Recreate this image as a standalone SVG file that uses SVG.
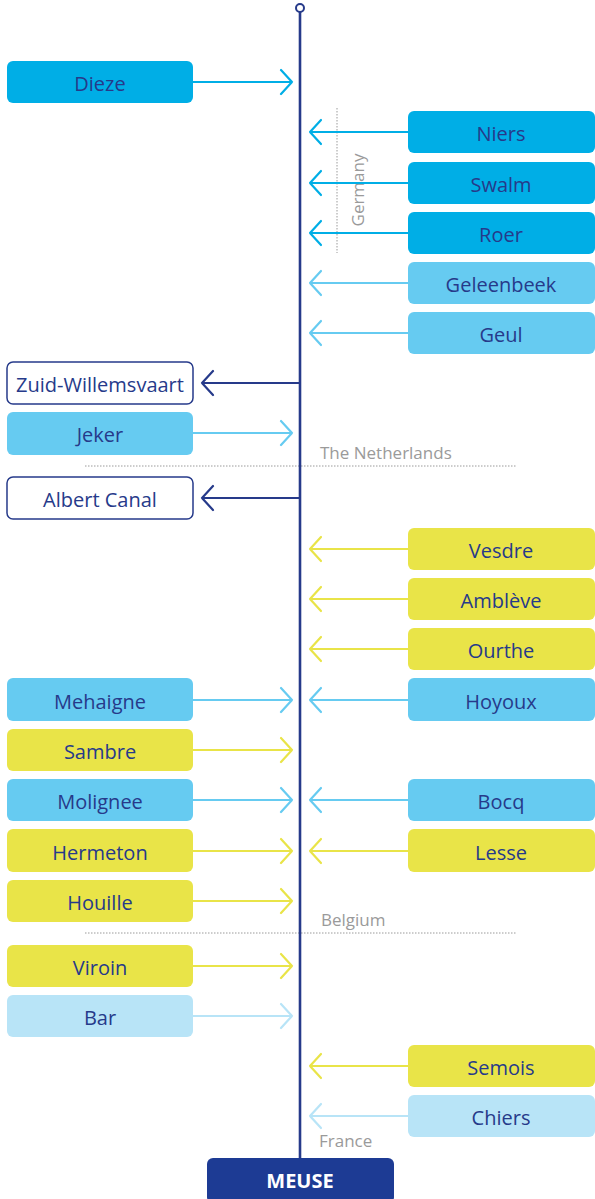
<svg xmlns="http://www.w3.org/2000/svg" width="595" height="1199" viewBox="0 0 595 1199">
<style>
.lbl{font-family:"Open Sans","Liberation Sans",sans-serif;font-size:20px;fill:#263a8a;text-anchor:middle;dominant-baseline:central}
.cty{font-family:"Open Sans","Liberation Sans",sans-serif;font-size:17px;fill:#9a9a9a}
.c1{fill:#00aee6}
.c2{fill:#66cbf1}
.c3{fill:#b8e4f7}
.cy{fill:#e9e448}
.cw{fill:#ffffff;stroke:#263a8a;stroke-width:1.5}
.a1{stroke:#00aee6}
.a2{stroke:#66cbf1}
.a3{stroke:#b8e4f7}
.ay{stroke:#e9e448}
.ad{stroke:#263a8a}
.arr path{fill:none;stroke-width:2.2;stroke-linecap:round;stroke-linejoin:round}
.dot{stroke:#9a9a9a;stroke-width:1;stroke-dasharray:1.5 1.5;fill:none}
</style>

<g id="borders">
<line class="dot" x1="337" y1="108" x2="337" y2="253"/>
<line class="dot" x1="85" y1="466" x2="516" y2="466"/>
<line class="dot" x1="85" y1="933" x2="516" y2="933"/>
<text class="cty" transform="translate(364,190) rotate(-90)" text-anchor="middle">Germany</text>
<text class="cty" x="320" y="459">The Netherlands</text>
<text class="cty" x="321" y="926">Belgium</text>
<text class="cty" x="319" y="1147">France</text>
</g>

<g id="connectors" class="arr">
<path class="ad" d="M300 12 V1158" style="stroke-width:2.6"/>
<!-- left inflows -->
<path class="a1" d="M193 82 H292 M281 70 L292 82 L281 94"/>
<path class="a2" d="M193 433 H292 M281 421 L292 433 L281 445"/>
<path class="a2" d="M193 700 H292 M281 688 L292 700 L281 712"/>
<path class="ay" d="M193 750 H292 M281 738 L292 750 L281 762"/>
<path class="a2" d="M193 800 H292 M281 788 L292 800 L281 812"/>
<path class="ay" d="M193 851 H292 M281 839 L292 851 L281 863"/>
<path class="ay" d="M193 901 H292 M281 889 L292 901 L281 913"/>
<path class="ay" d="M193 966 H292 M281 954 L292 966 L281 978"/>
<path class="a3" d="M193 1016 H292 M281 1004 L292 1016 L281 1028"/>
<!-- right inflows -->
<path class="a1" d="M408 132 H310 M321 120 L310 132 L321 144"/>
<path class="a1" d="M408 183 H310 M321 171 L310 183 L321 195"/>
<path class="a1" d="M408 233 H310 M321 221 L310 233 L321 245"/>
<path class="a2" d="M408 283 H310 M321 271 L310 283 L321 295"/>
<path class="a2" d="M408 333 H310 M321 321 L310 333 L321 345"/>
<path class="ay" d="M408 549 H310 M321 537 L310 549 L321 561"/>
<path class="ay" d="M408 599 H310 M321 587 L310 599 L321 611"/>
<path class="ay" d="M408 649 H310 M321 637 L310 649 L321 661"/>
<path class="a2" d="M408 700 H310 M321 688 L310 700 L321 712"/>
<path class="a2" d="M408 800 H310 M321 788 L310 800 L321 812"/>
<path class="ay" d="M408 851 H310 M321 839 L310 851 L321 863"/>
<path class="ay" d="M408 1066 H310 M321 1054 L310 1066 L321 1078"/>
<path class="a3" d="M408 1116 H310 M321 1104 L310 1116 L321 1128"/>
<!-- outflows -->
<path class="ad" d="M300 383 H202 M213 371 L202 383 L213 395"/>
<path class="ad" d="M300 498 H202 M213 486 L202 498 L213 510"/>
</g>
<circle cx="300" cy="8" r="4" fill="#fff" stroke="#263a8a" stroke-width="2"/>

<g id="n-dieze"><rect class="c1" x="7" y="61" width="186" height="42" rx="6"/><text class="lbl" x="100" y="83">Dieze</text></g>
<g id="n-niers"><rect class="c1" x="408" y="111" width="187" height="42" rx="6"/><text class="lbl" x="501" y="133">Niers</text></g>
<g id="n-swalm"><rect class="c1" x="408" y="162" width="187" height="42" rx="6"/><text class="lbl" x="501" y="184">Swalm</text></g>
<g id="n-roer"><rect class="c1" x="408" y="212" width="187" height="42" rx="6"/><text class="lbl" x="501" y="234">Roer</text></g>
<g id="n-geleenbeek"><rect class="c2" x="408" y="262" width="187" height="42" rx="6"/><text class="lbl" x="501" y="284">Geleenbeek</text></g>
<g id="n-geul"><rect class="c2" x="408" y="312" width="187" height="42" rx="6"/><text class="lbl" x="501" y="334">Geul</text></g>
<g id="n-zuid"><rect class="cw" x="7" y="362" width="186" height="42" rx="6"/><text class="lbl" x="100" y="384">Zuid-Willemsvaart</text></g>
<g id="n-jeker"><rect class="c2" x="7" y="412" width="186" height="43" rx="6"/><text class="lbl" x="100" y="434">Jeker</text></g>
<g id="n-albert"><rect class="cw" x="7" y="477" width="186" height="42" rx="6"/><text class="lbl" x="100" y="499">Albert Canal</text></g>
<g id="n-vesdre"><rect class="cy" x="408" y="528" width="187" height="42" rx="6"/><text class="lbl" x="501" y="550">Vesdre</text></g>
<g id="n-ambleve"><rect class="cy" x="408" y="578" width="187" height="42" rx="6"/><text class="lbl" x="501" y="600">Amblève</text></g>
<g id="n-ourthe"><rect class="cy" x="408" y="628" width="187" height="42" rx="6"/><text class="lbl" x="501" y="650">Ourthe</text></g>
<g id="n-mehaigne"><rect class="c2" x="7" y="678" width="186" height="43" rx="6"/><text class="lbl" x="100" y="701">Mehaigne</text></g>
<g id="n-hoyoux"><rect class="c2" x="408" y="678" width="187" height="43" rx="6"/><text class="lbl" x="501" y="701">Hoyoux</text></g>
<g id="n-sambre"><rect class="cy" x="7" y="729" width="186" height="42" rx="6"/><text class="lbl" x="100" y="751">Sambre</text></g>
<g id="n-molignee"><rect class="c2" x="7" y="779" width="186" height="42" rx="6"/><text class="lbl" x="100" y="801">Molignee</text></g>
<g id="n-bocq"><rect class="c2" x="408" y="779" width="187" height="42" rx="6"/><text class="lbl" x="501" y="801">Bocq</text></g>
<g id="n-hermeton"><rect class="cy" x="7" y="829" width="186" height="43" rx="6"/><text class="lbl" x="100" y="852">Hermeton</text></g>
<g id="n-lesse"><rect class="cy" x="408" y="829" width="187" height="43" rx="6"/><text class="lbl" x="501" y="852">Lesse</text></g>
<g id="n-houille"><rect class="cy" x="7" y="880" width="186" height="42" rx="6"/><text class="lbl" x="100" y="902">Houille</text></g>
<g id="n-viroin"><rect class="cy" x="7" y="945" width="186" height="42" rx="6"/><text class="lbl" x="100" y="967">Viroin</text></g>
<g id="n-bar"><rect class="c3" x="7" y="995" width="186" height="42" rx="6"/><text class="lbl" x="100" y="1017">Bar</text></g>
<g id="n-semois"><rect class="cy" x="408" y="1045" width="187" height="42" rx="6"/><text class="lbl" x="501" y="1067">Semois</text></g>
<g id="n-chiers"><rect class="c3" x="408" y="1095" width="187" height="42" rx="6"/><text class="lbl" x="501" y="1117">Chiers</text></g>
<g id="n-meuse"><rect x="207" y="1158" width="187" height="45" rx="6" fill="#1d3b94"/><text class="lbl" x="300" y="1180" style="fill:#fff;font-weight:bold">MEUSE</text></g>
</svg>
